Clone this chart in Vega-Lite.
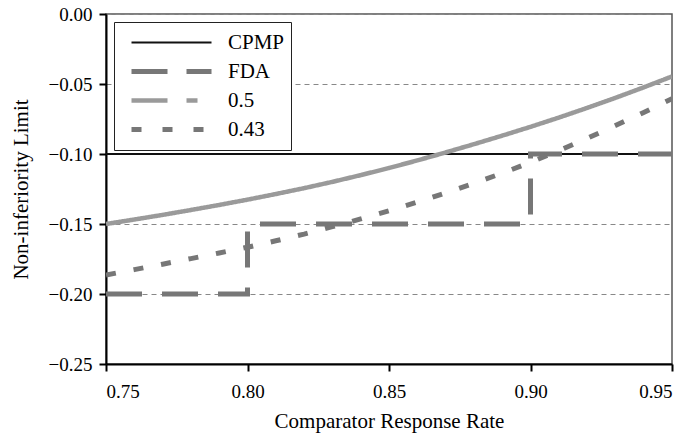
{
  "$schema": "https://vega.github.io/schema/vega-lite/v6.json",
  "width": 566,
  "height": 350,
  "autosize": {"type": "none"},
  "padding": {"left": 106, "top": 14, "right": 19, "bottom": 69},
  "background": "white",
  "config": {
    "font": "Liberation Serif, Times New Roman, serif",
    "view": {"stroke": "#555", "strokeWidth": 1.5},
    "axis": {
      "domainColor": "black", "domainWidth": 2,
      "tickColor": "black", "tickWidth": 2, "tickSize": 7,
      "labelFont": "Liberation Serif, Times New Roman, serif", "labelFontSize": 19, "labelColor": "black",
      "titleFont": "Liberation Serif, Times New Roman, serif", "titleFontSize": 21, "titleFontWeight": "normal", "titleColor": "black"
    },
    "legend": {
      "orient": "top-left", "offset": 8,
      "fillColor": "white", "strokeColor": "#222", "cornerRadius": 0,
      "padding": 6, "symbolType": "stroke", "symbolSize": 6400, "clipHeight": 29, "rowPadding": 0,
      "symbolOffset": 9, "labelOffset": 14, "labelFontSize": 21, "labelFont": "Liberation Serif, Times New Roman, serif", "labelColor": "black",
      "symbolOpacity": 1
    }
  },
  "data": {
    "values": [
      {"series": "CPMP", "i": 0, "x": 0.75, "y": -0.10},
      {"series": "CPMP", "i": 1, "x": 0.95, "y": -0.10},
      {"series": "FDA", "i": 0, "x": 0.75, "y": -0.20},
      {"series": "FDA", "i": 1, "x": 0.80, "y": -0.20},
      {"series": "FDA", "i": 2, "x": 0.80, "y": -0.15},
      {"series": "FDA", "i": 3, "x": 0.90, "y": -0.15},
      {"series": "FDA", "i": 4, "x": 0.90, "y": -0.10},
      {"series": "FDA", "i": 5, "x": 0.95, "y": -0.10},
      {"series": "0.5", "i": 0, "x": 0.75, "y": -0.1500},
      {"series": "0.5", "i": 1, "x": 0.76, "y": -0.1468},
      {"series": "0.5", "i": 2, "x": 0.77, "y": -0.1435},
      {"series": "0.5", "i": 3, "x": 0.78, "y": -0.1400},
      {"series": "0.5", "i": 4, "x": 0.79, "y": -0.1364},
      {"series": "0.5", "i": 5, "x": 0.80, "y": -0.1326},
      {"series": "0.5", "i": 6, "x": 0.81, "y": -0.1286},
      {"series": "0.5", "i": 7, "x": 0.82, "y": -0.1244},
      {"series": "0.5", "i": 8, "x": 0.83, "y": -0.1199},
      {"series": "0.5", "i": 9, "x": 0.84, "y": -0.1151},
      {"series": "0.5", "i": 10, "x": 0.85, "y": -0.1100},
      {"series": "0.5", "i": 11, "x": 0.86, "y": -0.1046},
      {"series": "0.5", "i": 12, "x": 0.87, "y": -0.0989},
      {"series": "0.5", "i": 13, "x": 0.88, "y": -0.0930},
      {"series": "0.5", "i": 14, "x": 0.89, "y": -0.0869},
      {"series": "0.5", "i": 15, "x": 0.90, "y": -0.0806},
      {"series": "0.5", "i": 16, "x": 0.91, "y": -0.0740},
      {"series": "0.5", "i": 17, "x": 0.92, "y": -0.0671},
      {"series": "0.5", "i": 18, "x": 0.93, "y": -0.0599},
      {"series": "0.5", "i": 19, "x": 0.94, "y": -0.0524},
      {"series": "0.5", "i": 20, "x": 0.95, "y": -0.0446},
      {"series": "0.43", "i": 0, "x": 0.75, "y": -0.1864},
      {"series": "0.43", "i": 1, "x": 0.76, "y": -0.1826},
      {"series": "0.43", "i": 2, "x": 0.77, "y": -0.1787},
      {"series": "0.43", "i": 3, "x": 0.78, "y": -0.1747},
      {"series": "0.43", "i": 4, "x": 0.79, "y": -0.1707},
      {"series": "0.43", "i": 5, "x": 0.80, "y": -0.1666},
      {"series": "0.43", "i": 6, "x": 0.81, "y": -0.1620},
      {"series": "0.43", "i": 7, "x": 0.82, "y": -0.1572},
      {"series": "0.43", "i": 8, "x": 0.83, "y": -0.1519},
      {"series": "0.43", "i": 9, "x": 0.84, "y": -0.1464},
      {"series": "0.43", "i": 10, "x": 0.85, "y": -0.1406},
      {"series": "0.43", "i": 11, "x": 0.86, "y": -0.1344},
      {"series": "0.43", "i": 12, "x": 0.87, "y": -0.1278},
      {"series": "0.43", "i": 13, "x": 0.88, "y": -0.1209},
      {"series": "0.43", "i": 14, "x": 0.89, "y": -0.1137},
      {"series": "0.43", "i": 15, "x": 0.90, "y": -0.1060},
      {"series": "0.43", "i": 16, "x": 0.91, "y": -0.0976},
      {"series": "0.43", "i": 17, "x": 0.92, "y": -0.0888},
      {"series": "0.43", "i": 18, "x": 0.93, "y": -0.0797},
      {"series": "0.43", "i": 19, "x": 0.94, "y": -0.0703},
      {"series": "0.43", "i": 20, "x": 0.95, "y": -0.0605}
    ]
  },
  "encoding": {
    "x": {
      "field": "x", "type": "quantitative",
      "scale": {"domain": [0.75, 0.95], "nice": false, "zero": false},
      "axis": {"values": [0.75, 0.8, 0.85, 0.9, 0.95], "format": ".2f", "title": "Comparator Response Rate", "grid": false, "labelPadding": 11, "titlePadding": 9}
    },
    "y": {
      "field": "y", "type": "quantitative",
      "scale": {"domain": [-0.25, 0], "nice": false, "zero": false},
      "axis": {"values": [-0.25, -0.2, -0.15, -0.1, -0.05, 0], "format": ".2f", "title": "Non-inferiority Limit", "grid": true, "gridDash": [5, 4], "gridColor": "#888", "gridWidth": 1, "labelPadding": 7, "titlePadding": 17}
    },
    "order": {"field": "i", "type": "quantitative"}
  },
  "layer": [
    {
      "mark": {"type": "line", "clip": true, "strokeCap": "butt"},
      "encoding": {
        "color": {
          "field": "series", "type": "nominal",
          "scale": {"domain": ["CPMP", "FDA", "0.5", "0.43"], "range": ["#111111", "#777777", "#9a9a9a", "#777777"]},
          "legend": null
        },
        "strokeWidth": {
          "field": "series", "type": "nominal",
          "scale": {"type": "ordinal", "domain": ["CPMP", "FDA", "0.5", "0.43"], "range": [2, 5, 4.5, 5]},
          "legend": null
        },
        "strokeDash": {
          "field": "series", "type": "nominal",
          "scale": {"domain": ["CPMP", "FDA", "0.5", "0.43"], "range": [[1, 0], [36, 20], [1, 0], [10, 18]]},
          "legend": null
        }
      }
    },
    {
      "mark": {"type": "line", "clip": true, "opacity": 0, "strokeCap": "butt"},
      "encoding": {
        "color": {
          "field": "series", "type": "nominal",
          "scale": {"domain": ["CPMP", "FDA", "0.5", "0.43"], "range": ["#111111", "#777777", "#9a9a9a", "#777777"]},
          "legend": {"title": null}
        },
        "strokeWidth": {
          "field": "series", "type": "nominal",
          "scale": {"type": "ordinal", "domain": ["CPMP", "FDA", "0.5", "0.43"], "range": [2, 5, 4.5, 5]},
          "legend": {"title": null}
        },
        "strokeDash": {
          "field": "series", "type": "nominal",
          "scale": {"domain": ["CPMP", "FDA", "0.5", "0.43"], "range": [[1, 0], [36, 19], [36, 19, 11, 19], [10, 21]]},
          "legend": {"title": null}
        }
      }
    }
  ],
  "resolve": {
    "scale": {"color": "independent", "strokeWidth": "independent", "strokeDash": "independent"},
    "legend": {"color": "independent", "strokeWidth": "independent", "strokeDash": "independent"}
  }
}
